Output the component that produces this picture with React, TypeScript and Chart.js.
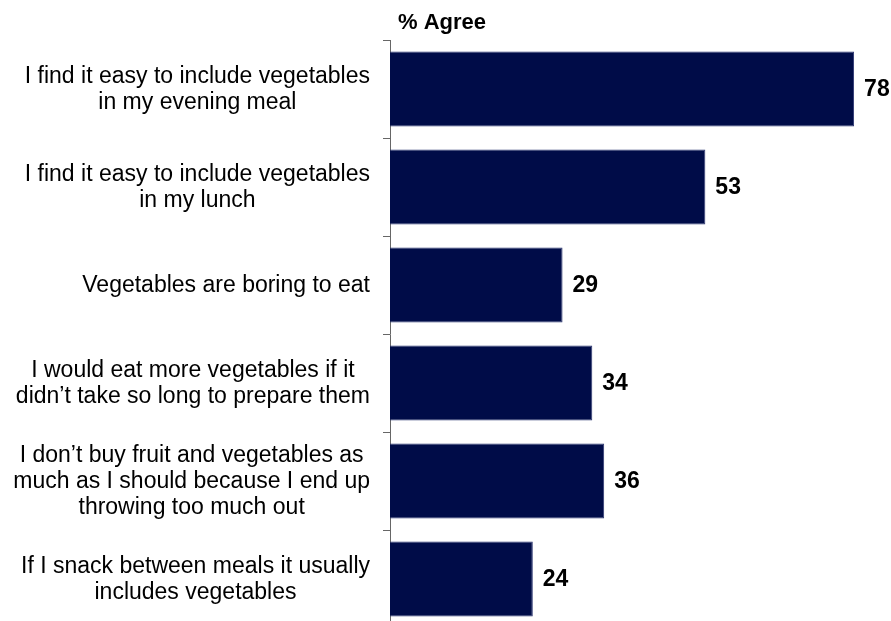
import React, { useEffect, useRef } from "react";
import { Chart, registerables } from "chart.js";

Chart.register(...registerables);

const categories: (string | string[])[] = [
  ["I find it easy to include vegetables", "in my evening meal"],
  ["I find it easy to include vegetables", "in my lunch"],
  "Vegetables are boring to eat",
  ["I would eat more vegetables if it", "didn\u2019t take so long to prepare them"],
  ["I don\u2019t buy fruit and vegetables as", "much as I should because I end up", "throwing too much out"],
  ["If I snack between meals it usually", "includes vegetables"],
];
const agreeValues: number[] = [78, 53, 29, 34, 36, 24];
const chartTitle = "% Agree";

const FONT = "'Liberation Sans', Arial, sans-serif";

export default function App() {
  const ref = useRef<HTMLCanvasElement | null>(null);

  useEffect(() => {
    document.documentElement.style.overflow = "hidden";
    document.body.style.overflow = "hidden";
    const canvas = ref.current!;
    const labelPlugin = {
      id: "labels",
      afterDatasetsDraw(chart: any) {
        const ctx = chart.ctx;
        ctx.save();
        ctx.fillStyle = "#000";
        // title
        ctx.font = `bold 22px ${FONT}`;
        ctx.textAlign = "left";
        ctx.textBaseline = "alphabetic";
        ctx.fillText(chartTitle, chart.chartArea.left + 8, 29);
        // value labels
        const meta = chart.getDatasetMeta(0);
        ctx.font = `bold 23px ${FONT}`;
        ctx.textBaseline = "middle";
        meta.data.forEach((el: any, i: number) => {
          ctx.fillText(String(agreeValues[i]), el.x + 10, el.y + 1);
        });
        // category labels: block right-aligned, lines centered within block
        const yScale = chart.scales.y;
        ctx.font = `23px ${FONT}`;
        ctx.textAlign = "center";
        const lineH = 26;
        const rightEdge = yScale.right - 20;
        categories.forEach((lab, i) => {
          const lines = Array.isArray(lab) ? lab : [lab];
          const blockW = Math.max(...lines.map((l) => ctx.measureText(l).width));
          const cx = rightEdge - blockW / 2;
          const yc = yScale.getPixelForTick(i);
          lines.forEach((l, j) => {
            ctx.fillText(l, cx, yc + (j - (lines.length - 1) / 2) * lineH + 1);
          });
        });
        ctx.restore();
      },
    };
    const chart = new Chart(canvas, {
      type: "bar",
      data: {
        labels: categories,
        datasets: [
          {
            data: agreeValues,
            backgroundColor: "#000C48",
            borderColor: "#2B3570",
            borderWidth: 1,
            categoryPercentage: 1,
            barPercentage: 0.765,
          },
        ],
      },
      options: {
        indexAxis: "y",
        responsive: false,
        animation: false,
        layout: { padding: { top: 40, bottom: 12, left: 0, right: 25 } },
        plugins: {
          legend: { display: false },
          title: { display: false },
          tooltip: { enabled: false },
        },
        scales: {
          x: {
            display: false,
            min: 0,
            max: 80,
          },
          y: {
            afterFit: (s: any) => {
              s.width = 390;
            },
            border: { display: true, color: "#666", width: 1 },
            grid: {
              drawOnChartArea: false,
              drawTicks: true,
              tickLength: 7,
              color: "#666",
              offset: true,
            },
            ticks: {
              display: false,
              autoSkip: false,
            },
          },
        },
      },
      plugins: [labelPlugin],
    });
    return () => chart.destroy();
  }, []);

  return (
    <div style={{ position: "fixed", left: 0, top: 0, width: 891, height: 621, overflow: "hidden", background: "#fff" }}>
      <canvas ref={ref} width={891} height={640} style={{ display: "block", width: 891, height: 640 }} />
    </div>
  );
}
